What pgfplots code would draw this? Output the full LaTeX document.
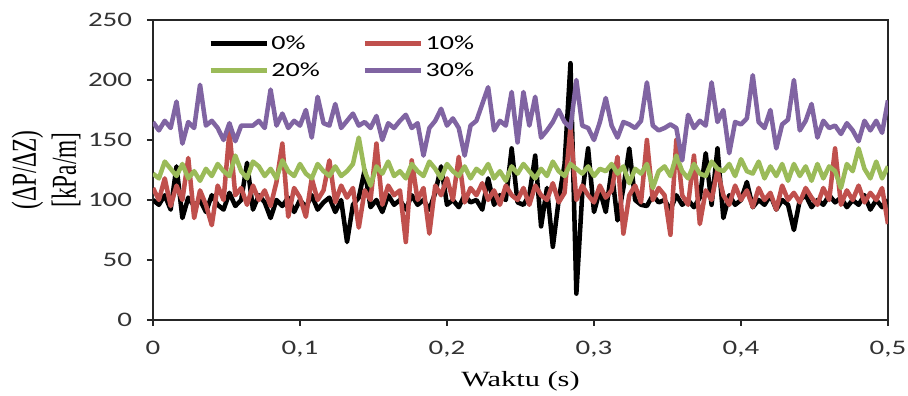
\documentclass[border=0pt]{standalone}
\usepackage{pgfplots}
\pgfplotsset{compat=1.18}
\usepackage{pgfplotstable}
\usepackage{fontspec}
\setmainfont{Liberation Serif}
\newfontfamily\calibri{Carlito}
\definecolor{cK}{HTML}{000000}
\definecolor{cR}{HTML}{C0504D}
\definecolor{cG}{HTML}{9BBB59}
\definecolor{cP}{HTML}{8064A2}
\pgfplotstableread{
t K R G P
0.000 100 110 122 165
0.004 96 100 118 158
0.008 104 118 132 166
0.012 92 95 126 160
0.016 128 112 120 182
0.020 85 100 130 147
0.024 102 135 118 165
0.028 95 85 124 160
0.032 100 108 116 196
0.036 90 96 126 162
0.040 104 79 120 166
0.044 96 112 130 160
0.048 92 100 124 150
0.052 106 157 120 164
0.056 95 104 137 149
0.060 100 110 124 162
0.064 131 96 118 162
0.068 92 112 132 162
0.072 104 100 128 166
0.076 98 108 120 160
0.080 85 95 126 192
0.084 100 115 118 162
0.088 95 147 133 172
0.092 102 86 124 160
0.096 90 110 120 166
0.100 100 102 130 162
0.104 94 86 122 175
0.108 104 118 118 152
0.112 92 100 130 186
0.116 98 108 124 164
0.120 102 133 120 162
0.124 90 98 128 180
0.128 100 112 120 160
0.132 65 102 124 166
0.136 96 110 130 172
0.140 102 77 152 162
0.144 125 108 124 165
0.148 94 100 112 160
0.152 100 147 128 170
0.156 90 96 122 150
0.160 104 112 132 164
0.164 96 104 120 160
0.168 100 108 124 166
0.172 92 65 118 171
0.176 104 133 130 160
0.180 96 100 124 164
0.184 100 110 120 137
0.188 92 72 132 160
0.192 106 112 126 166
0.196 128 104 118 176
0.200 96 118 130 162
0.204 100 100 124 168
0.208 94 136 120 160
0.212 104 98 128 137
0.216 98 110 118 162
0.220 100 104 126 166
0.224 92 114 122 180
0.228 118 100 130 194
0.232 96 108 118 158
0.236 104 96 124 166
0.240 100 112 116 162
0.244 143 104 128 190
0.248 98 100 122 148
0.252 96 110 130 190
0.256 104 96 124 162
0.260 137 112 118 186
0.264 78 104 126 152
0.268 110 100 120 158
0.272 61 114 132 165
0.276 100 98 124 175
0.280 130 106 120 165
0.284 214 161 130 160
0.288 22 100 126 200
0.292 105 112 122 162
0.296 143 104 128 160
0.300 90 98 120 150
0.304 108 112 126 165
0.308 90 102 124 185
0.312 125 108 130 162
0.316 83 136 122 152
0.320 110 72 128 165
0.324 143 104 114 163
0.328 100 112 126 160
0.332 96 98 122 166
0.336 95 150 130 198
0.340 104 100 110 162
0.344 98 110 124 158
0.348 100 104 128 160
0.352 92 71 120 163
0.356 104 150 137 160
0.360 96 104 124 133
0.364 100 96 118 171
0.368 94 137 130 160
0.372 102 80 122 166
0.376 139 108 120 162
0.380 96 100 132 198
0.384 143 125 126 165
0.388 85 104 124 175
0.392 104 96 130 139
0.396 96 112 120 165
0.400 100 100 134 163
0.404 115 108 124 168
0.408 94 94 122 204
0.412 100 110 132 165
0.416 96 100 118 160
0.420 104 106 128 175
0.424 92 92 120 143
0.428 100 112 130 163
0.432 96 100 116 167
0.436 75 106 130 200
0.440 100 98 120 158
0.444 104 110 128 166
0.448 94 102 116 180
0.452 100 96 130 152
0.456 96 110 118 166
0.460 104 100 128 160
0.464 98 143 124 162
0.468 102 96 110 155
0.472 94 108 130 164
0.476 100 100 124 158
0.480 96 112 143 149
0.484 104 98 126 166
0.488 92 106 118 158
0.492 100 100 132 166
0.496 94 110 118 156
0.500 100 80 128 183
}\data
\begin{document}
\begin{tikzpicture}
\begin{axis}[
  at={(0,0)}, anchor=south west,
  width=551.25pt, height=225pt, scale only axis,
  xmin=0, xmax=0.5, ymin=0, ymax=250,
  xtick={0,0.1,0.2,0.3,0.4,0.5},
  ytick={0,50,100,150,200,250},
  axis line style={line width=1.5pt, black!85},
  tick align=outside, xtick pos=bottom, ytick pos=left,
  major tick length=4.5pt,
  tick style={line width=1pt, black!85},
  /pgf/number format/assume math mode=true,
  tick label style={font=\calibri\fontsize{15.5}{18}\selectfont, xscale=1.4, text=black!80},
  xticklabel style={/pgf/number format/.cd, use comma, fixed, precision=1, /tikz/.cd, yshift=-7.5pt},
  yticklabel style={xshift=-4.5pt},
  xlabel={\scalebox{1.4}[1]{Waktu (s)}},
  xlabel style={font=\fontsize{16.3}{19}\selectfont, at={(axis description cs:0.5,0)}, anchor=center, yshift=-45.75pt},
  ylabel={\scalebox{1}[1.5]{(ΔP/ΔZ)}\\\scalebox{1}[1.5]{[kPa/m]}},
  ylabel style={font=\fontsize{17.5}{30}\selectfont, align=center, at={(axis description cs:-0.1456,0.5)}, anchor=center},
  legend columns=2,
  legend cell align=left,
  legend style={draw=none, fill=none, at={(axis description cs:0.0748,0.9567)}, anchor=north west,
    font=\calibri\fontsize{15}{18}\selectfont, inner sep=0pt, row sep=4.5pt,
    /tikz/every even column/.append style={column sep=30pt}},
  legend image code/.code={\draw[#1, line width=3.4pt] (0pt,0pt) -- (42pt,0pt);},
  every axis plot/.append style={line width=3.4pt, line join=round, no markers},
]
\addplot[cK] table[x=t, y=K] {\data};
\addlegendentry{\scalebox{1.4}[1]{0\%}}
\addplot[cR] table[x=t, y=R] {\data};
\addlegendentry{\scalebox{1.4}[1]{10\%}}
\addplot[cG] table[x=t, y=G] {\data};
\addlegendentry{\scalebox{1.4}[1]{20\%}}
\addplot[cP] table[x=t, y=P] {\data};
\addlegendentry{\scalebox{1.4}[1]{30\%}}
\end{axis}
\pgfresetboundingbox
\useasboundingbox (-114.75pt,-57pt) rectangle (566.25pt,240pt);
\end{tikzpicture}
\end{document}
